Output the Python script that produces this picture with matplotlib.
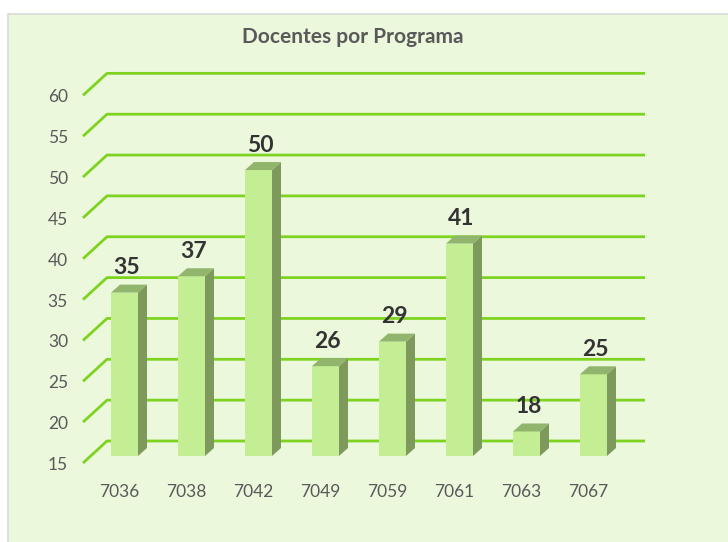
import matplotlib.pyplot as plt
from matplotlib.patches import Polygon, Rectangle

programas = ['7036', '7038', '7042', '7049', '7059', '7061', '7063', '7067']
docentes = [35, 37, 50, 26, 29, 41, 18, 25]
yticks = [15, 20, 25, 30, 35, 40, 45, 50, 55, 60]
titulo = 'Docentes por Programa'

fundo = '#ECF8DC'
cor_frente = '#C3EE93'
cor_lado = '#7D9A5C'
cor_topo = '#92B56E'
cor_grade = '#7ED321'
fonte = 'Lato'

# escala: 67 px por categoria, 8.17 px por unidade
px_x = 67.0
px_y = 8.17

fig = plt.figure(figsize=(7.28, 5.42), dpi=100)
fig.patch.set_facecolor('white')
fig.add_artist(Rectangle((8 / 728, -0.02), 1, 1.02 - 14 / 542, transform=fig.transFigure,
                         facecolor=fundo, edgecolor='#D9D9D9', lw=1.2, zorder=-10))

ax = fig.add_axes([0, 0, 1, 1])
ax.set_xlim(-124.5 / px_x, (728 - 124.5) / px_x)
ax.set_ylim(15 - 86 / px_y, 15 + 456 / px_y)
ax.axis('off')

# deslocamentos da perspectiva (em unidades de dados)
atras_y = 15 / px_y
frente_y = -7 / px_y
frente_x = -41.5 / px_x
atras_x = -17.5 / px_x
fim_x = 520.5 / px_x

for v in yticks:
    ax.plot([frente_x, atras_x, fim_x], [v + frente_y, v + atras_y, v + atras_y],
            color=cor_grade, lw=2, solid_capstyle='butt', zorder=1)
    ax.text(frente_x - 15 / px_x, v + frente_y - 2 / px_y, str(v), ha='right', va='center',
            fontsize=12.5, color='#595959', family=fonte)

larg = 27 / px_x
prof_x = 9 / px_x
prof_y = 8 / px_y
base = 15

barras = ax.bar(range(len(docentes)), [d - base for d in docentes], bottom=base,
                width=larg, color=cor_frente, zorder=3)

for i, d in enumerate(docentes):
    x0 = i - larg / 2
    x1 = i + larg / 2
    ax.add_patch(Polygon([(x1, base), (x1 + prof_x, base + prof_y), (x1 + prof_x, d + prof_y), (x1, d)],
                         closed=True, facecolor=cor_lado, edgecolor='none', zorder=3))
    ax.add_patch(Polygon([(x0, d), (x0 + prof_x, d + prof_y), (x1 + prof_x, d + prof_y), (x1, d)],
                         closed=True, facecolor=cor_topo, edgecolor='none', zorder=3))
    ax.text(i + 2 / px_x, d + 25 / px_y, str(d), ha='center', va='center',
            fontsize=16.5, fontweight='bold', color='#333333', family=fonte)
    ax.text(i - 5 / px_x, base - 36 / px_y, programas[i], ha='center', va='center',
            fontsize=12.5, color='#595959', family=fonte)

ax.text((353 - 124.5) / px_x, 15 + (456 - 37) / px_y, titulo, ha='center', va='center',
        fontsize=15, fontweight='bold', color='#595959', family=fonte)

plt.savefig('out.png', dpi=100)
